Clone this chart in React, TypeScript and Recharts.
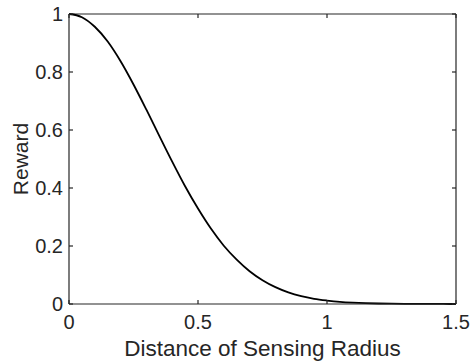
import React from "react";
import { LineChart, Line, XAxis, YAxis, ReferenceLine } from "recharts";

// values
const distance = [
  0, 0.05, 0.1, 0.15, 0.2, 0.25, 0.3, 0.35, 0.4, 0.45, 0.5, 0.55, 0.6, 0.65, 0.7, 0.75,
  0.8, 0.85, 0.9, 0.95, 1, 1.05, 1.1, 1.15, 1.2, 1.25, 1.3, 1.35, 1.4, 1.45, 1.5,
];
const reward = [
  1, 0.989, 0.956, 0.905, 0.837, 0.757, 0.67, 0.58, 0.491, 0.406, 0.329, 0.26, 0.201, 0.153,
  0.113, 0.082, 0.058, 0.04, 0.027, 0.018, 0.012, 0.0074, 0.0046, 0.0028, 0.0017, 0.001,
  0.0005, 0.0003, 0.0002, 0.0001, 0,
];
const xTicks = [0, 0.5, 1, 1.5];
const yTicks = [0, 0.2, 0.4, 0.6, 0.8, 1];

const data = distance.map((d, i) => ({ d, r: reward[i] }));

const ink = "#262626";
const font = "'Liberation Sans', Arial, Helvetica, sans-serif";
const W = 470;
const H = 362;
const M = { top: 14, right: 14, bottom: 0, left: 0 };
const Y_AXIS_W = 69;
const X_AXIS_H = 58;
const PLOT_W = W - M.left - M.right - Y_AXIS_W;
const PLOT_H = H - M.top - M.bottom - X_AXIS_H;
const TL = 4; // inward tick length
const X_GAP = 25;
const Y_GAP = 6;

// MATLAB style: ticks point inside the box, on all four sides
const BottomTick = (props: any) => {
  const c = props.payload.coordinate;
  const axisY = props.y - X_GAP;
  return (
    <g>
      <line x1={c} x2={c} y1={axisY} y2={axisY - TL} stroke={ink} strokeWidth={1.2} />
      <line x1={c} x2={c} y1={axisY - PLOT_H} y2={axisY - PLOT_H + TL} stroke={ink} strokeWidth={1.2} />
      <text x={c} y={props.y} textAnchor="middle" fontSize={20} fill={ink} fontFamily={font}>
        {props.payload.value}
      </text>
    </g>
  );
};

const LeftTick = (props: any) => {
  const c = props.payload.coordinate;
  const axisX = props.x + Y_GAP;
  return (
    <g>
      <line x1={axisX} x2={axisX + TL} y1={c} y2={c} stroke={ink} strokeWidth={1.2} />
      <line x1={axisX + PLOT_W} x2={axisX + PLOT_W - TL} y1={c} y2={c} stroke={ink} strokeWidth={1.2} />
      <text x={props.x} y={c} dy="0.36em" textAnchor="end" fontSize={20} fill={ink} fontFamily={font}>
        {props.payload.value}
      </text>
    </g>
  );
};

export default function App() {
  return (
    <div style={{ position: "absolute", left: 0, top: 0 }}>
      <LineChart width={W} height={H} data={data} margin={M}>
        <XAxis
          dataKey="d"
          type="number"
          domain={[0, 1.5]}
          ticks={xTicks}
          height={X_AXIS_H}
          stroke={ink}
          strokeWidth={1.2}
          tickLine={false}
          tickSize={0}
          tickMargin={X_GAP}
          tick={<BottomTick />}
          label={{ value: "Distance of Sensing Radius", position: "insideBottom", offset: 6, fontSize: 22.5, fill: ink, fontFamily: font }}
        />
        <YAxis
          type="number"
          domain={[0, 1]}
          ticks={yTicks}
          width={Y_AXIS_W}
          stroke={ink}
          strokeWidth={1.2}
          tickLine={false}
          tickSize={0}
          tickMargin={Y_GAP}
          tick={<LeftTick />}
          label={{ value: "Reward", angle: -90, position: "insideLeft", offset: 21, fontSize: 21, fill: ink, fontFamily: font, style: { textAnchor: "middle" } }}
        />
        <ReferenceLine y={1} stroke={ink} strokeWidth={1.2} ifOverflow="visible" />
        <ReferenceLine x={1.5} stroke={ink} strokeWidth={1.2} ifOverflow="visible" />
        <Line
          type="monotone"
          dataKey="r"
          stroke="#000"
          strokeWidth={1.8}
          dot={false}
          isAnimationActive={false}
        />
      </LineChart>
    </div>
  );
}
